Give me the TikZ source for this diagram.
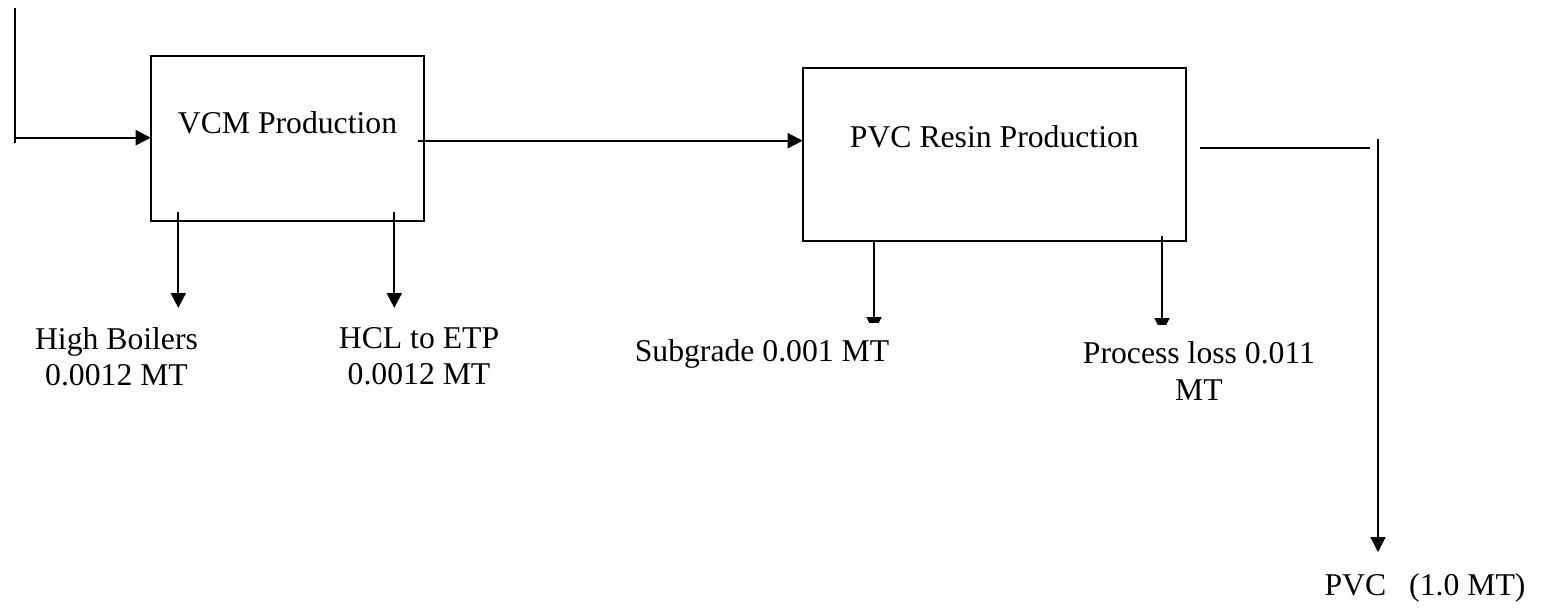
\documentclass[tikz,border=0pt]{standalone}
\usepackage{fontspec}
\setmainfont{Liberation Serif}
\usetikzlibrary{arrows.meta}
\begin{document}
\begin{tikzpicture}[x=1pt,y=-1pt,
  every node/.style={font=\fontsize{31.7}{36.5}\selectfont},
  procbox/.style={draw, line width=2.3pt, inner sep=0pt, outer sep=0pt, anchor=north west},
  flow/.style={line width=2pt},
  arr/.style={flow, -{Triangle[length=15pt,width=15pt]}},
  lbl/.style={inner sep=0pt, align=center, anchor=north}]
\useasboundingbox (0,0) rectangle (1542,615);
\node[procbox, minimum width=273.6pt, minimum height=165pt, text depth=31.7pt] (vcm) at (150.7,55.7) {VCM Production};
\node[procbox, minimum width=383.3pt, minimum height=173pt, text depth=36.7pt] (pvc) at (802.7,68) {PVC Resin Production};
% input
\coordinate (src) at (14.7,8);
\coordinate (srcend) at (14.7,142.7);
\coordinate (srcturn) at (14.7,137.7);
\draw[flow] (src) -- (srcend);
\draw[arr] (srcturn) -- (vcm.west |- srcturn);
% VCM to PVC
\coordinate (vcmout) at (417.7,140.7);
\draw[arr] (vcmout) -- (pvc.west |- vcmout);
% VCM outputs
\coordinate (hbstart) at (178.3,211.7);
\coordinate (hbend) at (178.3,308);
\coordinate (hclstart) at (394.3,211.7);
\coordinate (hclend) at (394.3,308);
\draw[arr] (hbstart) -- (hbend);
\draw[arr] (hclstart) -- (hclend);
\node[lbl] (hb) at (116.5,327) {High Boilers\\0.0012 MT};
\node[lbl] (hcl) at (419,327) {HCL to ETP\\0.0012 MT};
% PVC outputs (truncated heads)
\coordinate (sgend) at (874,332);
\coordinate (plstart) at (1162,236);
\coordinate (plend) at (1162,333);
\begin{scope}
  \clip (860,230) rectangle (890,322);
  \draw[arr] (pvc.south -| sgend) -- (sgend);
\end{scope}
\begin{scope}
  \clip (1148,230) rectangle (1176,324);
  \draw[arr] (plstart) -- (plend);
\end{scope}
\node[lbl] (sg) at (762,339) {Subgrade 0.001 MT};
\node[lbl] (pl) at (1199,341.7) {Process loss 0.011\\MT};
% final product
\coordinate (outa) at (1200,148);
\coordinate (outb) at (1370,148);
\draw[flow] (outa) -- (outb);
\coordinate (downa) at (1378,139);
\coordinate (downb) at (1378,552);
\draw[arr] (downa) -- (downb);
\node[lbl] (prod) at (1425,573) {PVC\hspace{23pt}(1.0 MT)};
\end{tikzpicture}
\end{document}
